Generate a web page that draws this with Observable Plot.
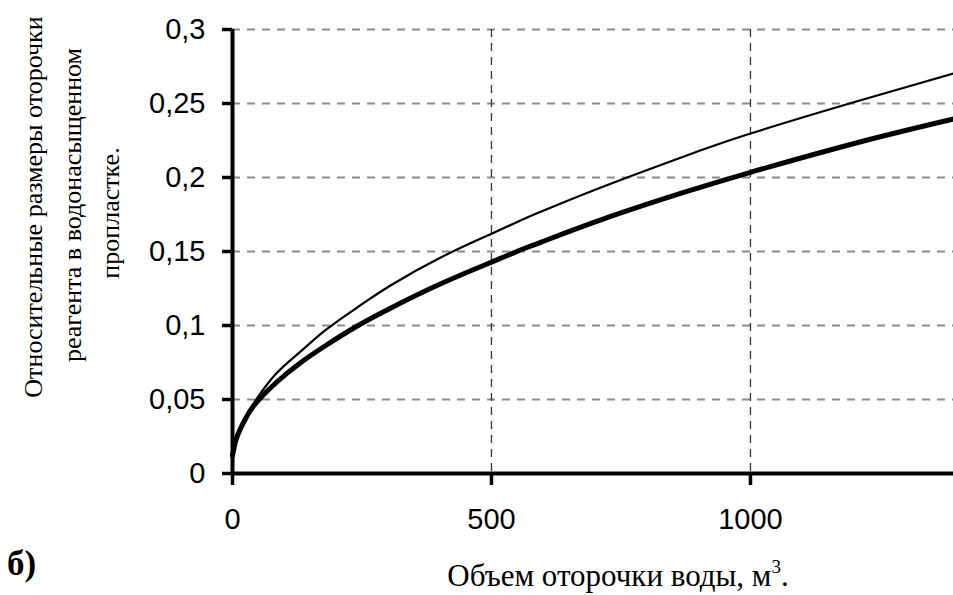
<!DOCTYPE html>
<html>
<head>
<meta charset="utf-8">
<script src="https://cdn.jsdelivr.net/npm/d3@7"></script>
<script src="https://cdn.jsdelivr.net/npm/@observablehq/plot@0.6"></script>
<style>
  html, body { margin: 0; padding: 0; background: #fff; }
  #chart svg { display: block; }
</style>
</head>
<body>
<div id="chart"></div>
<script>
// Объем оторочки воды, м³
const volume = [0, 4, 10, 25, 44, 83, 130, 180, 240, 305, 401, 500, 556, 595, 710, 865, 1000, 1206, 1392];
// thick curve
const thickSeries = [0.012, 0.019, 0.026, 0.037, 0.047, 0.061, 0.0745, 0.0865, 0.0995, 0.1117, 0.128, 0.1428, 0.151, 0.1562, 0.1712, 0.1892, 0.2035, 0.2235, 0.2395];
// thin curve
const thinSeries = [0.012, 0.019, 0.026, 0.038, 0.049, 0.067, 0.082, 0.097, 0.112, 0.127, 0.1458, 0.162, 0.1709, 0.1768, 0.1931, 0.2134, 0.2297, 0.2515, 0.2703];

const xTicks = [0, 500, 1000];
const yTicks = [0, 0.05, 0.1, 0.15, 0.2, 0.25, 0.3];
const yGridValues = [0.05, 0.1, 0.15, 0.2, 0.25, 0.3];
const xGridValues = [500, 1000];

const yTitleLines = ["Относительные размеры оторочки", "реагента в водонасыщенном", "пропластке."];
const xTitle = "Объем оторочки воды, м";
const panelLabel = "б)";

const data = volume.map((v, i) => ({v, thick: thickSeries[i], thin: thinSeries[i]}));
const fmtY = d => String(d).replace(".", ",");
const fmtX = d => String(d);

const plot = Plot.plot({
  width: 953,
  height: 595,
  marginLeft: 232,
  marginRight: 0,
  marginTop: 29,
  marginBottom: 122,
  style: {fontFamily: "'Liberation Sans', Arial, sans-serif", fontSize: "29px", background: "#fff", color: "#000", overflow: "visible"},
  x: {domain: [0, 1392]},
  y: {domain: [0, 0.3]},
  marks: [
    Plot.ruleY(yGridValues, {stroke: "#8a8a8a", strokeWidth: 2, strokeDasharray: "8,7"}),
    Plot.ruleX(xGridValues, {stroke: "#333", strokeWidth: 1.3, strokeDasharray: "8,6"}),
    Plot.line(data, {x: "v", y: "thin", stroke: "#000", strokeWidth: 2.2, curve: "natural"}),
    Plot.line(data, {x: "v", y: "thick", stroke: "#000", strokeWidth: 5, curve: "natural"}),
    Plot.ruleX([0], {stroke: "#000", strokeWidth: 4}),
    Plot.ruleY([0], {stroke: "#000", strokeWidth: 4}),
    Plot.axisY(yTicks, {tickSize: 10, tickPadding: 17, strokeWidth: 3.5, tickFormat: fmtY, fontSize: 29, label: null}),
    Plot.axisX(xTicks, {tickSize: 12, tickPadding: 23, strokeWidth: 3.5, tickFormat: fmtX, fontSize: 29, label: null})
  ]
});

const svg = d3.select(plot);
const serif = "'Liberation Serif', 'Times New Roman', serif";
const yTitlePos = [[33, 207], [72, 205], [110, 213]];
yTitleLines.forEach((t, i) => {
  svg.append("text")
    .attr("transform", `translate(${yTitlePos[i][0]},${yTitlePos[i][1]}) rotate(-90)`)
    .attr("text-anchor", "middle")
    .attr("dy", "0.35em")
    .attr("font-family", serif)
    .attr("font-size", 26)
    .attr("fill", "#000")
    .text(t);
});
const xt = svg.append("text")
  .attr("x", 618).attr("y", 586)
  .attr("text-anchor", "middle")
  .attr("font-family", serif)
  .attr("font-size", 31)
  .attr("fill", "#000");
xt.append("tspan").text(xTitle);
xt.append("tspan").attr("dy", -13).attr("font-size", 19).text("3");
xt.append("tspan").attr("dy", 13).text(".");

svg.append("text")
  .attr("x", 7).attr("y", 575)
  .attr("text-anchor", "start")
  .attr("font-family", serif)
  .attr("font-weight", "bold")
  .attr("font-size", 35)
  .attr("fill", "#000")
  .text(panelLabel);

document.getElementById("chart").appendChild(plot);
</script>
</body>
</html>
